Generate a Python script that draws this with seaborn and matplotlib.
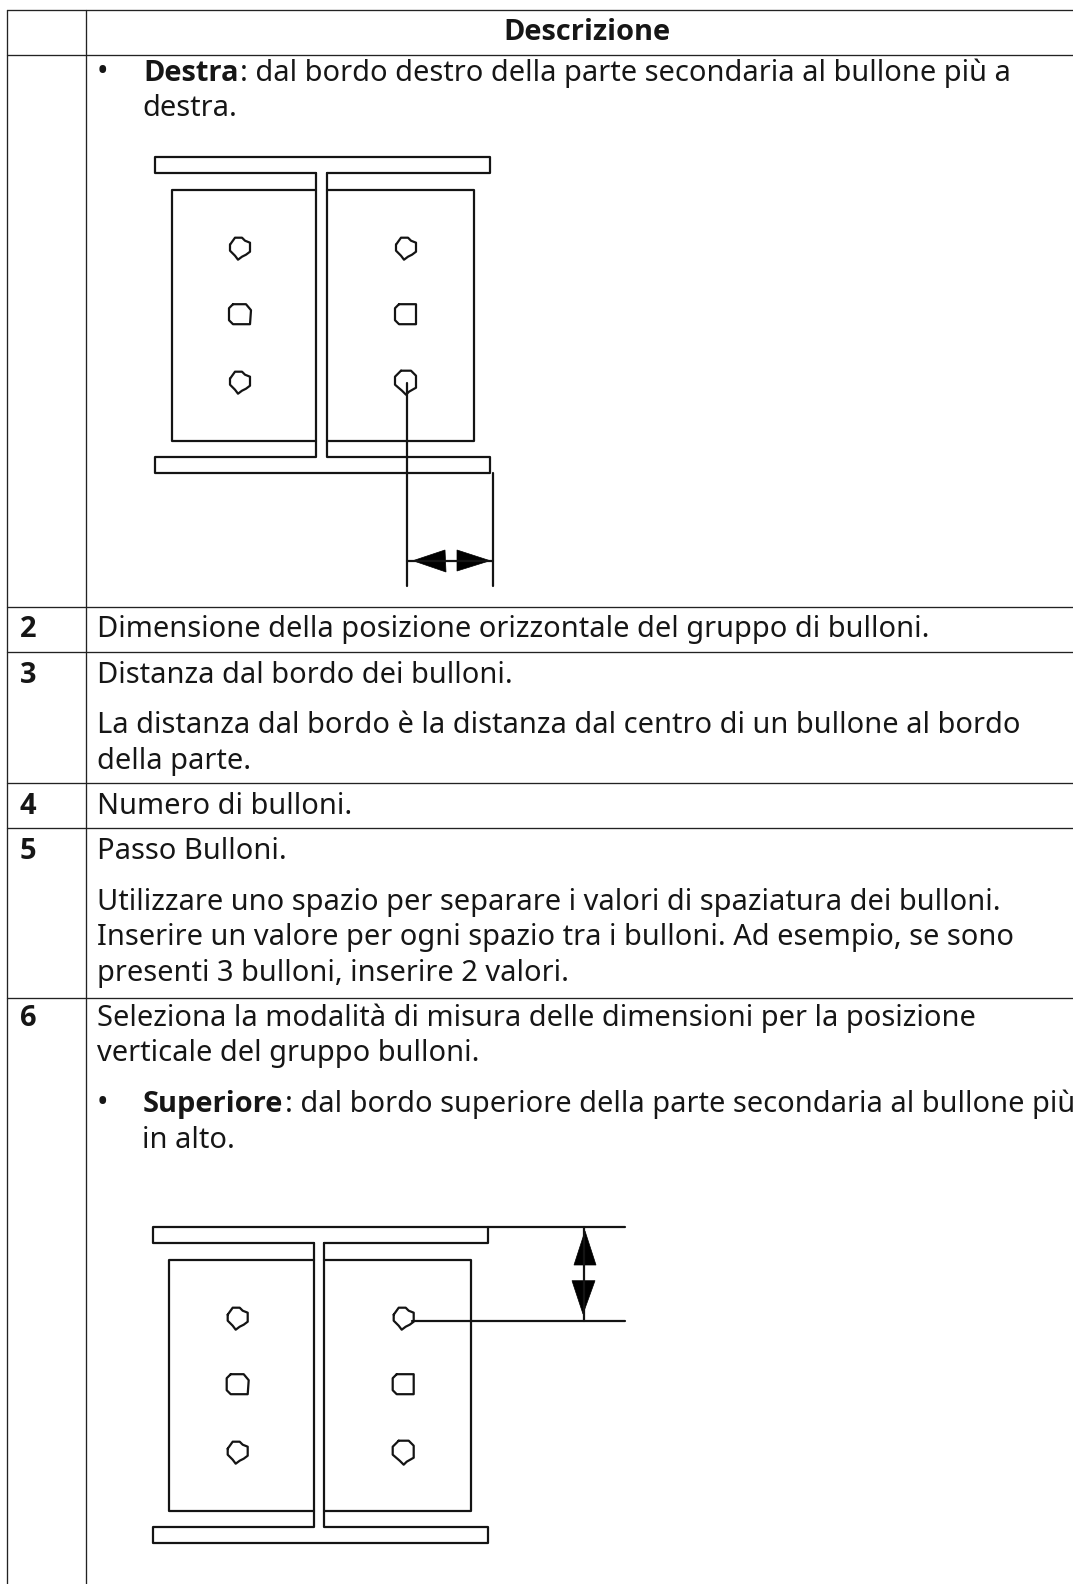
import pandas as pd
import matplotlib
matplotlib.use('Agg')
import matplotlib.pyplot as plt
import seaborn as sns

WIDTH = 1073
HEIGHT = 1584

# table rules
col_x = [7, 85.5]
row_y = [10, 55, 607, 652, 783, 828, 998]

# (x, baseline, text, bold)
plain_text = [
    (503, 40, 'Descrizione', True),
    (142, 116, 'destra.', False),
    (20, 637, '2', True),
    (97, 637, 'Dimensione della posizione orizzontale del gruppo di bulloni.', False),
    (20, 683, '3', True),
    (97, 683, 'Distanza dal bordo dei bulloni.', False),
    (97, 733, 'La distanza dal bordo è la distanza dal centro di un bullone al bordo', False),
    (97, 769, 'della parte.', False),
    (20, 814, '4', True),
    (97, 814, 'Numero di bulloni.', False),
    (20, 859, '5', True),
    (97, 859, 'Passo Bulloni.', False),
    (97, 910, 'Utilizzare uno spazio per separare i valori di spaziatura dei bulloni.', False),
    (97, 945, 'Inserire un valore per ogni spazio tra i bulloni. Ad esempio, se sono', False),
    (97, 981, 'presenti 3 bulloni, inserire 2 valori.', False),
    (20, 1026, '6', True),
    (97, 1026, 'Seleziona la modalità di misura delle dimensioni per la posizione', False),
    (97, 1061, 'verticale del gruppo bulloni.', False),
    (142, 1148, 'in alto.', False),
]
bullets = [(102, 81), (102, 1112)]
mixed_text = [
    (143, 81, 'Destra', ': dal bordo destro della parte secondaria al bullone più a'),
    (143, 1112, 'Superiore', ': dal bordo superiore della parte secondaria al bullone più'),
]

# the two connection sketches: anchor of the profile, and dimension lines
sketch_x = [155, 152.7]
sketch_y = [156.7, 1226.7]
flange_w = 335
flange_h = 16.6
web_left = 161
web_right = 171.5
plate_left = 16.5
plate_right = 318.5
plate_top = 33.3
plate_bottom = 284
depth = 300
bolt_cols = [85, 251]
bolt_rows = [91, 157.5, 225]

lobed = [(-10, -3), (-5, -10), (2, -10), (5, -7), (10, -5), (10, 4), (6, 7), (2, 9), (-2, 12), (-5, 8), (-10, 3)]
rounded = [(-7, -10), (6, -10), (11, -4), (10, 10), (-7, 10), (-11, 6), (-11, -6)]
squared = [(-7, -10), (10, -10), (10, 10), (-7, 10), (-11, 6), (-11, -6)]
drop = [(-5, -11), (5, -11), (10, -6), (10, 6), (3, 10), (0, 13), (-4, 9), (-11, 3), (-11, -5)]
bolt_shapes = [[lobed, lobed], [rounded, squared], [lobed, drop]]

dim_lines = [
    [(407, 383), (407, 586)],
    [(492.7, 473), (492.7, 586)],
    [(407, 560.7), (492.7, 560.7)],
    [(488, 1226.7), (624.7, 1226.7)],
    [(411.7, 1321), (624.7, 1321)],
    [(584, 1226.7), (584, 1321)],
]
arrow_heads = [
    [(413, 560.7), (445, 550), (446, 572)],
    [(490, 560.7), (457, 550), (457, 571)],
    [(585, 1231), (574, 1265), (596, 1265)],
    [(583, 1314), (572, 1280.7), (595, 1280.7)],
]


def sketch_paths(x0, y0):
    paths = []
    # top flange, with the web starting under it
    paths.append([(x0 + web_left, y0 + flange_h), (x0, y0 + flange_h), (x0, y0), (x0 + flange_w, y0),
                  (x0 + flange_w, y0 + flange_h), (x0 + web_right, y0 + flange_h)])
    bot = y0 + depth
    paths.append([(x0 + web_left, y0 + flange_h), (x0 + web_left, bot), (x0, bot), (x0, bot + flange_h),
                  (x0 + flange_w, bot + flange_h), (x0 + flange_w, bot), (x0 + web_right, bot),
                  (x0 + web_right, y0 + flange_h)])
    # stiffener plates either side of the web
    paths.append([(x0 + web_left, y0 + plate_top), (x0 + plate_left, y0 + plate_top),
                  (x0 + plate_left, y0 + plate_bottom), (x0 + web_left, y0 + plate_bottom)])
    paths.append([(x0 + web_right, y0 + plate_top), (x0 + plate_right, y0 + plate_top),
                  (x0 + plate_right, y0 + plate_bottom), (x0 + web_right, y0 + plate_bottom)])
    for r, by in enumerate(bolt_rows):
        for c, bx in enumerate(bolt_cols):
            shape = bolt_shapes[r][c]
            pts = [(x0 + bx + dx, y0 + by + dy) for dx, dy in shape]
            paths.append(pts + [pts[0]])
    return paths


def paths_frame(paths):
    rows = []
    for i, path in enumerate(paths):
        for x, y in path:
            rows.append({'seg': i, 'x': x, 'y': y})
    return pd.DataFrame(rows)


sns.set_theme(style='white')
plt.rcParams['font.family'] = ['Noto Sans', 'DejaVu Sans']

fig = plt.figure(figsize=(WIDTH / 100, HEIGHT / 100), dpi=100)
ax = fig.add_axes([0, 0, 1, 1])
ax.axis('off')

all_paths = []
for sx, sy in zip(sketch_x, sketch_y):
    all_paths += sketch_paths(sx, sy)
all_paths += dim_lines
sns.lineplot(data=paths_frame(all_paths), x='x', y='y', units='seg', estimator=None, sort=False,
             color='#141414', lw=1.6, legend=False, ax=ax)

for head in arrow_heads:
    ax.fill([p[0] for p in head], [p[1] for p in head], color='#000000', lw=0.5)

rules = [[(x, row_y[0]), (x, HEIGHT)] for x in col_x]
rules += [[(col_x[0], y), (WIDTH, y)] for y in row_y]
sns.lineplot(data=paths_frame(rules), x='x', y='y', units='seg', estimator=None, sort=False,
             color='#222222', lw=0.95, legend=False, ax=ax)

ax.set_xlim(0, WIDTH)
ax.set_ylim(HEIGHT, 0)
ax.set(xlabel=None, ylabel=None)

FS = 20.9
TEXT_COLOR = '#161616'


def bold_text(x, y, s):
    # the Noto Sans here is a variable file with no bold, Open Sans has a real one
    return ax.text(x, y, s, fontsize=FS, color=TEXT_COLOR, va='baseline', ha='left',
                   family=['Open Sans', 'DejaVu Sans'], fontweight='bold')


for x, y, s, bold in plain_text:
    if bold:
        bold_text(x, y, s)
    else:
        ax.text(x, y, s, fontsize=FS, color=TEXT_COLOR, va='baseline', ha='left')
for x, y in bullets:
    ax.text(x, y, '•', fontsize=FS * 1.05, color=TEXT_COLOR, va='baseline', ha='center')

fig.canvas.draw()
renderer = fig.canvas.get_renderer()
for x, y, head, tail in mixed_text:
    t = bold_text(x, y, head)
    right = t.get_window_extent(renderer).x1
    ax.text(right + 2, y, tail, fontsize=FS, color=TEXT_COLOR, va='baseline', ha='left')

fig.savefig('out.png', dpi=100, facecolor='white')
